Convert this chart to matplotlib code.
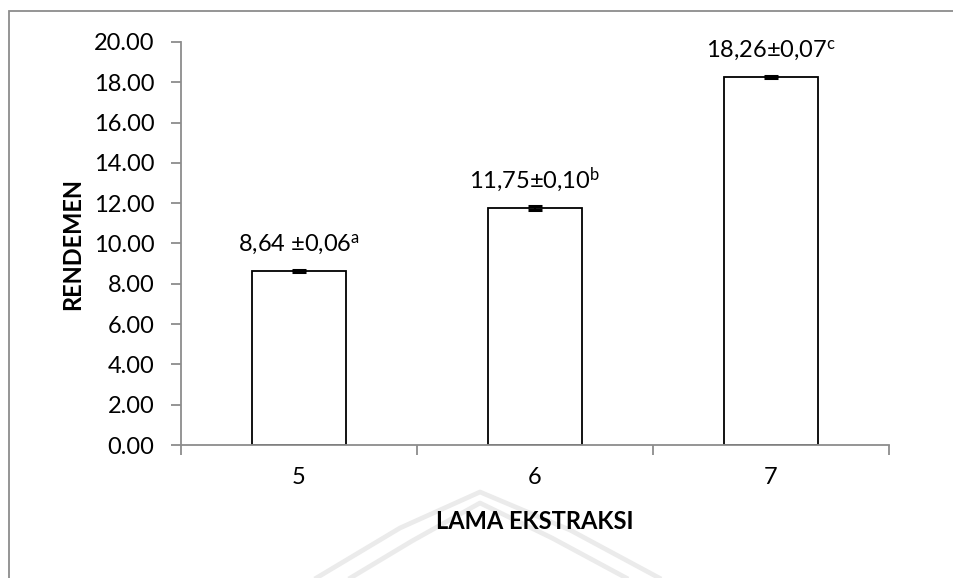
import numpy as np
import matplotlib
matplotlib.use("Agg")
import matplotlib.pyplot as plt
from matplotlib.lines import Line2D
from matplotlib.patches import Rectangle

plt.rcParams['font.family'] = ['Lato', 'DejaVu Sans']
plt.rcParams['mathtext.fontset'] = 'custom'
plt.rcParams['mathtext.rm'] = 'Lato'
plt.rcParams['mathtext.it'] = 'Lato'

# extraction time vs yield
lama = ['5', '6', '7']
rendemen = [8.64, 11.75, 18.26]
sd = [0.06, 0.10, 0.07]
notasi = ['a', 'b', 'c']
label_teks = ['8,64 ±0,06', '11,75±0,10', '18,26±0,07']

fs = 17

fig = plt.figure(figsize=(9.54, 5.78), dpi=100)
fig.patch.set_facecolor('white')

# faint background watermark (double roof lines)
def wm(xs, ys):
    fig.add_artist(Line2D(np.array(xs) / 954, 1 - np.array(ys) / 578,
                          color='#ebebeb', lw=3.4, zorder=0,
                          solid_capstyle='butt', solid_joinstyle='round'))

wm([313, 400, 480, 570, 663], [580, 528, 492, 530, 580])
wm([347, 412, 480, 552, 630], [580, 541, 503, 538, 580])

# outer chart frame
fig.add_artist(Rectangle((9 / 954, -0.1), 1.2, 1.1 - 11 / 578,
                         transform=fig.transFigure, fill=False,
                         edgecolor='#8c8c8c', lw=1.3, zorder=1))

ax = fig.add_axes([181 / 954, 133 / 578, 708 / 954, 403 / 578])
ax.set_facecolor('none')

x = np.arange(1, len(lama) + 1)
ax.bar(x, rendemen, width=0.4, color='white', edgecolor='black',
       linewidth=1.3, zorder=2)
ax.errorbar(x, rendemen, yerr=sd, fmt='none', ecolor='black',
            elinewidth=1.3, capsize=5, capthick=2.2, zorder=3)

for xi, v, t, n in zip(x, rendemen, label_teks, notasi):
    ax.annotate(t + r'$^{\mathrm{' + n + '}}$', (xi, v), xytext=(0, 10),
                textcoords='offset points', ha='center', va='bottom',
                fontsize=fs)

ax.set_xlim(0.5, 3.5)
ax.set_ylim(0, 20)
ax.set_yticks(np.arange(0, 21, 2))
ax.set_yticklabels(['%.2f' % v for v in np.arange(0, 21, 2)])

ax.set_xticks([0.5, 1.5, 2.5, 3.5])
ax.set_xticklabels([])
ax.set_xticks(x, minor=True)
ax.set_xticklabels(lama, minor=True)
ax.tick_params(axis='x', which='minor', length=0, pad=16, labelsize=fs)
ax.tick_params(axis='x', which='major', length=7, width=1.3,
               color='#8c8c8c', direction='out')
ax.tick_params(axis='y', length=7, width=1.3, color='#8c8c8c',
               direction='out', labelsize=fs, pad=12)

for s in ['top', 'right']:
    ax.spines[s].set_visible(False)
for s in ['left', 'bottom']:
    ax.spines[s].set_color('#8c8c8c')
    ax.spines[s].set_linewidth(1.3)
    ax.spines[s].set_zorder(4)

ax.set_ylabel('RENDEMEN', fontsize=fs, fontweight='bold', labelpad=7)
ax.set_xlabel('LAMA EKSTRAKSI', fontsize=fs, fontweight='bold', labelpad=16)

fig.savefig('out.png', dpi=100, facecolor='white')
